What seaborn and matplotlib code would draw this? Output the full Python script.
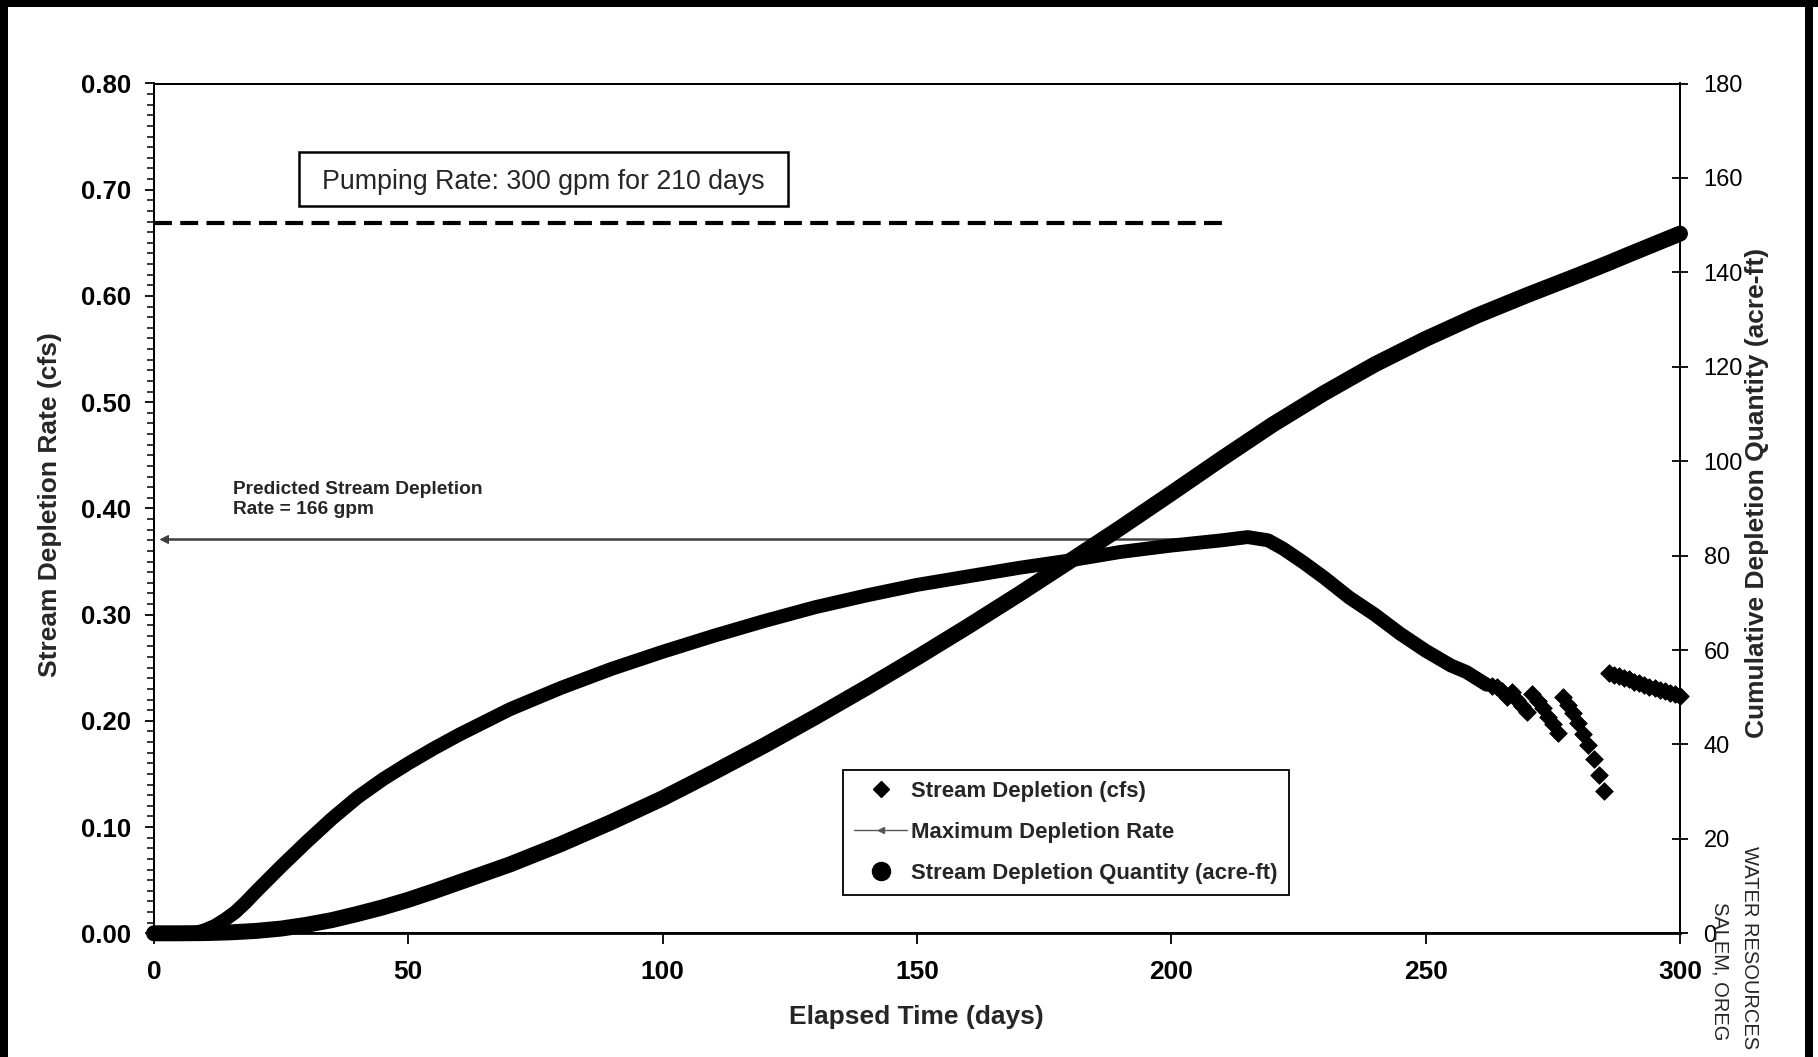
import matplotlib
matplotlib.use("Agg")
import matplotlib.pyplot as plt
import seaborn as sns
from matplotlib.lines import Line2D
from matplotlib.patches import Rectangle
from matplotlib.ticker import MultipleLocator

# ---------------- data ----------------
rate_days = [0, 5, 8, 10, 12, 14, 16, 18, 20, 25, 30, 35, 40, 45, 50, 55, 60, 65, 70,
             75, 80, 85, 90, 95, 100, 110, 120, 130, 140, 150, 160, 170, 180, 190, 200,
             210, 215, 219, 222, 226, 230, 235, 240, 245, 250, 255, 258, 262]
rate_cfs = [0.000, 0.000, 0.000, 0.003, 0.007, 0.013, 0.020, 0.029, 0.039, 0.063, 0.086,
            0.108, 0.128, 0.145, 0.160, 0.174, 0.187, 0.199, 0.211, 0.221, 0.231, 0.240,
            0.249, 0.257, 0.265, 0.280, 0.294, 0.307, 0.318, 0.328, 0.336, 0.344, 0.351,
            0.359, 0.365, 0.370, 0.373, 0.370, 0.362, 0.349, 0.335, 0.316, 0.300, 0.282,
            0.266, 0.252, 0.246, 0.234]

tail1_days = [263, 264, 265, 266, 267, 268, 269, 270, 271, 272, 273, 274, 275, 276]
tail1_cfs = [0.233, 0.232, 0.228, 0.222, 0.227, 0.220, 0.214, 0.208, 0.225, 0.219,
             0.212, 0.204, 0.197, 0.189]
tail2_days = [277, 278, 279, 280, 281, 282, 283, 284, 285]
tail2_cfs = [0.222, 0.215, 0.207, 0.198, 0.188, 0.177, 0.164, 0.149, 0.134]
tail3_days = [286, 287, 288, 289, 290, 291, 292, 293, 294, 295, 296, 297, 298, 299, 300]
tail3_cfs = [0.245, 0.243, 0.242, 0.240, 0.239, 0.237, 0.236, 0.234, 0.232, 0.231,
             0.229, 0.228, 0.226, 0.225, 0.223]

cum_days = [0, 5, 10, 15, 20, 25, 30, 35, 40, 45, 50, 55, 60, 70, 80, 90, 100, 110, 120,
            130, 140, 150, 160, 170, 180, 190, 200, 210, 220, 230, 240, 250, 260, 270,
            280, 286, 290, 295, 300]
cum_acreft = [0.0, 0.0, 0.05, 0.2, 0.5, 1.0, 1.8, 2.8, 4.1, 5.5, 7.1, 8.9, 10.8, 14.6,
              18.9, 23.6, 28.6, 34.1, 39.8, 45.8, 52.0, 58.4, 65.0, 71.8, 78.8, 85.9,
              93.2, 100.6, 107.8, 114.4, 120.5, 125.9, 130.8, 135.2, 139.4, 142.0,
              143.8, 146.0, 148.2]

pumping_days = [0, 210]
pumping_cfs = [0.669, 0.669]
maxrate_days = [2, 215]
maxrate_cfs = [0.371, 0.371]

x_ticks = [0, 50, 100, 150, 200, 250, 300]
left_ticks = [0.0, 0.1, 0.2, 0.3, 0.4, 0.5, 0.6, 0.7, 0.8]
right_ticks = [0, 20, 40, 60, 80, 100, 120, 140, 160, 180]

legend_labels = ["Stream Depletion (cfs)", "Maximum Depletion Rate",
                 "Stream Depletion Quantity (acre-ft)"]

# ---------------- style ----------------
sns.set_theme(style="ticks")
plt.rcParams["font.family"] = ["Liberation Sans", "DejaVu Sans"]
plt.rcParams["axes.edgecolor"] = "black"
plt.rcParams["xtick.color"] = "black"
plt.rcParams["ytick.color"] = "black"

W, H = 1818, 1057
fig = plt.figure(figsize=(W / 100, H / 100), dpi=100, facecolor="white")
L, R, T, B = 154, 1680, 83.5, 933.3
ax = fig.add_axes([L / W, 1 - B / H, (R - L) / W, (B - T) / H])
ax2 = ax.twinx()

# ---------------- marks ----------------
sns.lineplot(x=pumping_days, y=pumping_cfs, ax=ax, color="black", linewidth=3,
             linestyle=(0, (4.3, 2.0)))
sns.lineplot(x=maxrate_days, y=maxrate_cfs, ax=ax, color="#3f3f3f", linewidth=1.8,
             marker="<", markevery=[0], markersize=6, markeredgecolor="#3f3f3f")
sns.lineplot(x=rate_days, y=rate_cfs, ax=ax, color="black", linewidth=10,
             solid_capstyle="round", clip_on=False)
for d, v in [(tail1_days, tail1_cfs), (tail2_days, tail2_cfs), (tail3_days, tail3_cfs)]:
    sns.scatterplot(x=d, y=v, ax=ax, marker="D", s=80, color="black",
                    edgecolor="black", linewidth=0.6, clip_on=False, zorder=3,
                    legend=False)
sns.lineplot(x=cum_days, y=cum_acreft, ax=ax2, color="black", linewidth=11.5,
             solid_capstyle="round", clip_on=False)

# ---------------- axes ----------------
ax.set_xlim(0, 300)
ax.set_ylim(0, 0.80)
ax2.set_ylim(0, 180)

ax.set_xticks(x_ticks, [str(t) for t in x_ticks], fontsize=19, fontweight="bold")
ax.set_yticks(left_ticks, [f"{t:.2f}" for t in left_ticks], fontsize=18.5,
              fontweight="bold")
ax.yaxis.set_minor_locator(MultipleLocator(0.01))
ax2.set_yticks(right_ticks, [str(t) for t in right_ticks], fontsize=17)

ax.tick_params(axis="x", which="major", direction="out", length=8, width=1.3, pad=11)
ax.tick_params(axis="y", which="major", direction="out", length=6.5, width=1.3, pad=10)
ax.tick_params(axis="y", which="minor", direction="out", length=5, width=1.1, left=True)
ax2.tick_params(axis="y", which="major", direction="inout", length=12, width=1.3, pad=11)

for a in (ax, ax2):
    for s in a.spines.values():
        s.set_visible(True)
        s.set_linewidth(1.4)
        s.set_color("black")
ax.spines["bottom"].set_linewidth(2.0)

ax.set_xlabel("Elapsed Time (days)", fontsize=19, fontweight="bold")
ax.xaxis.set_label_coords(0.4993, -0.0985)
ax.xaxis.label.set_verticalalignment("center")
ax.set_ylabel("Stream Depletion Rate (cfs)", fontsize=19, fontweight="bold")
ax.yaxis.set_label_coords(-0.0682, 0.505)
ax.yaxis.label.set_verticalalignment("center")
ax2.set_ylabel("Cumulative Depletion Quantity (acre-ft)", fontsize=19,
               fontweight="bold", rotation=90)
ax2.yaxis.set_label_coords(1.0505, 0.518)
ax2.yaxis.label.set_verticalalignment("center")

# ---------------- annotations ----------------
ax.add_patch(Rectangle((28.5, 0.685), 96.1, 0.0505, fill=False, edgecolor="black",
                       linewidth=1.8, zorder=4))
ax.text(76.6, 0.707, "Pumping Rate: 300 gpm for 210 days", fontsize=19.3,
        ha="center", va="center", zorder=5)
ax.text(15.5, 0.426, "Predicted Stream Depletion\nRate = 166 gpm", fontsize=13.8,
        fontweight="bold", ha="left", va="top", linespacing=1.25)

handles = [
    Line2D([], [], marker="D", color="black", linestyle="none", markersize=8),
    Line2D([], [], color="#555555", linewidth=1.0, marker="<", markersize=4),
    Line2D([], [], marker="o", color="black", linestyle="none", markersize=13),
]
leg = ax2.legend(handles, legend_labels, loc="upper left",
                 bbox_to_anchor=(0.4515, 0.1922), bbox_transform=ax2.transAxes,
                 frameon=True, fancybox=False, edgecolor="black", framealpha=1,
                 prop={"weight": "bold", "size": 15.9}, handlelength=2.4,
                 handletextpad=0.2, labelspacing=0.9, borderpad=0.5,
                 borderaxespad=0)
leg.get_frame().set_linewidth(1.3)

# ---------------- scanned page decorations ----------------
fig.add_artist(Rectangle((0, 0), 8 / W, 1, transform=fig.transFigure,
                         facecolor="black", edgecolor="none"))
fig.add_artist(Rectangle((0, 1 - 7 / H), 1, 7 / H, transform=fig.transFigure,
                         facecolor="black", edgecolor="none"))
fig.add_artist(Rectangle((1805 / W, 0), 8 / W, 1, transform=fig.transFigure,
                         facecolor="black", edgecolor="none"))
fig.text(1749 / W, 1 - 846 / H, "WATER RESOURCES", rotation=-90,
         rotation_mode="anchor", ha="left", va="center", fontsize=14.5)
fig.text(1720 / W, 1 - 902 / H, "SALEM, OREG", rotation=-90,
         rotation_mode="anchor", ha="left", va="center", fontsize=14.5)

fig.savefig("out.png", dpi=100, facecolor="white")
